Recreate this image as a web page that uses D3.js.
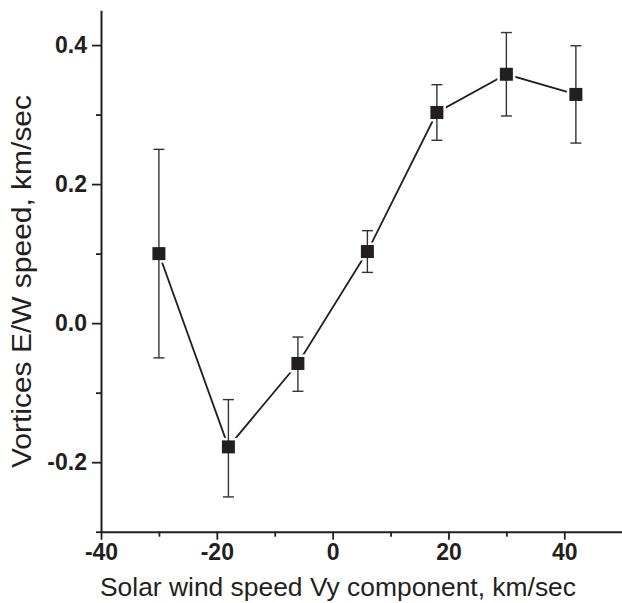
<!DOCTYPE html>
<html>
<head>
<meta charset="utf-8">
<script src="https://cdn.jsdelivr.net/npm/d3@7"></script>
<style>
  html, body { margin: 0; padding: 0; background: #fff; }
  svg { display: block; }
  text { font-family: "Liberation Sans", Arial, sans-serif; fill: #231f20; }
</style>
</head>
<body>
<svg id="chart" width="622" height="603"></svg>
<script>
// ---- data ----
const vyComponent = [-30, -18, -6, 6, 18, 30, 42];
const vortexSpeed = [0.100, -0.178, -0.058, 0.103, 0.303, 0.358, 0.329];
const errorUpper  = [0.250, -0.110, -0.020, 0.133, 0.343, 0.418, 0.399];
const errorLower  = [-0.050, -0.250, -0.098, 0.073, 0.263, 0.298, 0.259];
const xMajorTicks = [-40, -20, 0, 20, 40];
const xMinorTicks = [-30, -10, 10, 30];
const yMajorTicks = [-0.2, 0.0, 0.2, 0.4];
const yMinorTicks = [-0.3, -0.1, 0.1, 0.3];
const xTickLabels = ["-40", "-20", "0", "20", "40"];
const yTickLabels = ["-0.2", "0.0", "0.2", "0.4"];
const xTitle = "Solar wind speed Vy component, km/sec";
const yTitle = "Vortices E/W speed, km/sec";

const ink = "#231f20";
const svg = d3.select("#chart");

const x = d3.scaleLinear().domain([-40, 50]).range([101, 622.2]);
const y = d3.scaleLinear().domain([-0.3, 0.45]).range([531.7, 10.3]);

// ---- axes ----
svg.append("g").attr("transform", `translate(0,${y(-0.3)})`)
  .call(d3.axisBottom(x).tickValues(xMajorTicks).tickSize(8).tickPadding(4)
        .tickFormat((d, i) => xTickLabels[i]).tickSizeOuter(0));
svg.append("g").attr("transform", `translate(0,${y(-0.3)})`)
  .call(d3.axisBottom(x).tickValues(xMinorTicks).tickSize(5).tickFormat("").tickSizeOuter(0))
  .call(g => g.select(".domain").remove());

svg.append("g").attr("transform", `translate(${x(-40)},0)`)
  .call(d3.axisLeft(y).tickValues(yMajorTicks).tickSize(9).tickPadding(5)
        .tickFormat((d, i) => yTickLabels[i]).tickSizeOuter(0));
svg.append("g").attr("transform", `translate(${x(-40)},0)`)
  .call(d3.axisLeft(y).tickValues(yMinorTicks).tickSize(5).tickFormat("").tickSizeOuter(0))
  .call(g => g.select(".domain").remove());

svg.selectAll(".domain").attr("stroke", ink).attr("stroke-width", 2);
svg.selectAll(".tick line").attr("stroke", ink).attr("stroke-width", 1.8);
svg.selectAll(".tick text")
  .attr("font-family", "'Liberation Sans', Arial, sans-serif")
  .attr("font-size", 23).attr("font-weight", "bold").attr("fill", ink);

// axis titles
svg.append("text")
  .attr("x", 338).attr("y", 596)
  .attr("text-anchor", "middle")
  .attr("font-size", 25.5)
  .attr("textLength", 476).attr("lengthAdjust", "spacingAndGlyphs")
  .text(xTitle);

svg.append("text")
  .attr("transform", `translate(31,281.5) rotate(-90)`)
  .attr("text-anchor", "middle")
  .attr("font-size", 27)
  .attr("textLength", 373).attr("lengthAdjust", "spacingAndGlyphs")
  .text(yTitle);

// ---- series ----
const pts = vyComponent.map((v, i) => ({ x: v, y: vortexSpeed[i], hi: errorUpper[i], lo: errorLower[i] }));

svg.append("path")
  .datum(pts)
  .attr("fill", "none").attr("stroke", ink).attr("stroke-width", 1.8)
  .attr("d", d3.line().x(d => x(d.x)).y(d => y(d.y)));

const ms = 13;
// white halo for line gaps
svg.append("g").selectAll("rect").data(pts).join("rect")
  .attr("x", d => x(d.x) - ms / 2 - 2.5).attr("y", d => y(d.y) - ms / 2 - 2.5)
  .attr("width", ms + 5).attr("height", ms + 5).attr("fill", "#fff");

// error bars
const eb = svg.append("g").attr("stroke", "#333").attr("stroke-width", 1.4).attr("fill", "none");
eb.selectAll("line.v").data(pts).join("line").attr("class", "v")
  .attr("x1", d => x(d.x)).attr("x2", d => x(d.x))
  .attr("y1", d => y(d.hi)).attr("y2", d => y(d.lo));
eb.selectAll("line.t").data(pts).join("line").attr("class", "t")
  .attr("x1", d => x(d.x) - 5.5).attr("x2", d => x(d.x) + 5.5)
  .attr("y1", d => y(d.hi)).attr("y2", d => y(d.hi));
eb.selectAll("line.b").data(pts).join("line").attr("class", "b")
  .attr("x1", d => x(d.x) - 5.5).attr("x2", d => x(d.x) + 5.5)
  .attr("y1", d => y(d.lo)).attr("y2", d => y(d.lo));

// markers
svg.append("g").selectAll("rect").data(pts).join("rect")
  .attr("x", d => x(d.x) - ms / 2).attr("y", d => y(d.y) - ms / 2)
  .attr("width", ms).attr("height", ms).attr("fill", ink);
</script>
</body>
</html>
